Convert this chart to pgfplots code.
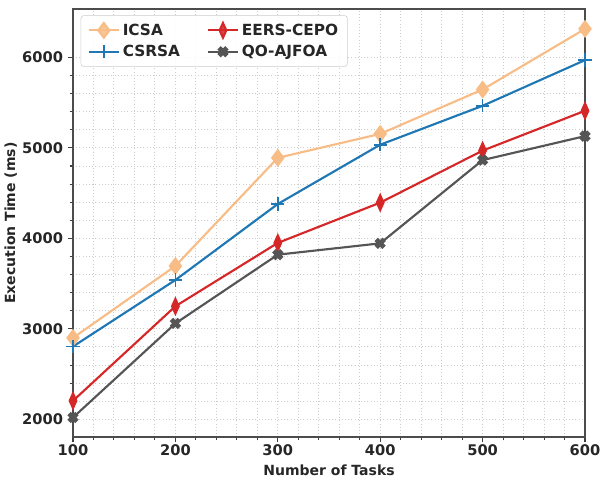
\documentclass[border=0pt]{standalone}
\usepackage{pgfplots}
\pgfplotsset{compat=1.18}
\usepackage{fontspec}
\setmainfont{DejaVu Sans}
\definecolor{cicsa}{HTML}{F8BC86}
\definecolor{ccsrsa}{HTML}{1F77B4}
\definecolor{ceers}{HTML}{D62728}
\definecolor{cqo}{HTML}{555555}
\begin{document}
\begin{tikzpicture}
\begin{axis}[
  width=384pt, height=321pt, scale only axis,
  xmin=100, xmax=600, ymin=1805, ymax=6535,
  xtick={100,200,300,400,500,600},
  ytick={2000,3000,4000,5000,6000},
  minor x tick num=4, minor y tick num=4,
  grid=both,
  major grid style={dotted, gray!40, line width=0.7pt},
  minor grid style={dotted, gray!40, line width=0.7pt},
  tick align=outside, xtick pos=bottom, ytick pos=left,
  major tick length=4pt, minor tick length=2.5pt,
  tick style={black!75, line width=0.8pt},
  axis line style={black!70, line width=0.9pt},
  /pgf/number format/assume math mode=true,
  /pgf/number format/1000 sep={},
  ticklabel style={font=\bfseries\fontsize{11}{13}\selectfont, text=black!85},
  xticklabel style={yshift=1.5pt},
  label style={font=\bfseries\fontsize{10.5}{12}\selectfont, text=black!85},
  ylabel style={yshift=-3pt},
  xlabel={Number of Tasks},
  ylabel={Execution Time (ms)},
  legend columns=2,
  legend style={at={(0.015,0.985)}, anchor=north west, draw=black!20,
    rounded corners=2pt, fill=white, fill opacity=0.85, text opacity=1,
    font=\bfseries\fontsize{11.5}{13}\selectfont, text=black!85,
    /tikz/every even column/.append style={column sep=18pt},
    inner xsep=5pt, inner ysep=4pt, row sep=2pt},
  legend cell align=left,
  legend image code/.code={\draw[mark repeat=2,mark phase=2] plot coordinates {(0cm,0cm) (0.4cm,0cm) (0.8cm,0cm)};},
]
\addplot[cicsa, line width=1.6pt, mark=diamond*, mark size=5.5pt, mark options={solid}]
  coordinates {(100,2900) (200,3695) (300,4890) (400,5155) (500,5645) (600,6315)};
\addlegendentry{ICSA}
\addplot[ceers, line width=1.6pt, mark=diamond*, mark size=5.5pt, mark options={solid, xscale=0.6}]
  coordinates {(100,2205) (200,3250) (300,3950) (400,4395) (500,4970) (600,5410)};
\addlegendentry{EERS-CEPO}
\addplot[ccsrsa, line width=1.6pt, mark=+, mark size=5pt, mark options={solid, line width=1.2pt}]
  coordinates {(100,2805) (200,3540) (300,4380) (400,5035) (500,5465) (600,5970)};
\addlegendentry{CSRSA}
\addplot[cqo, line width=1.6pt, mark=x, mark size=4.2pt, mark options={solid, line width=3.6pt}]
  coordinates {(100,2020) (200,3060) (300,3820) (400,3945) (500,4865) (600,5130)};
\addlegendentry{QO-AJFOA}
\end{axis}
\pgfresetboundingbox
\path ([shift={(-54.75pt,-33pt)}]current axis.south west) rectangle ([shift={(12pt,6.75pt)}]current axis.north east);
\end{tikzpicture}
\end{document}
